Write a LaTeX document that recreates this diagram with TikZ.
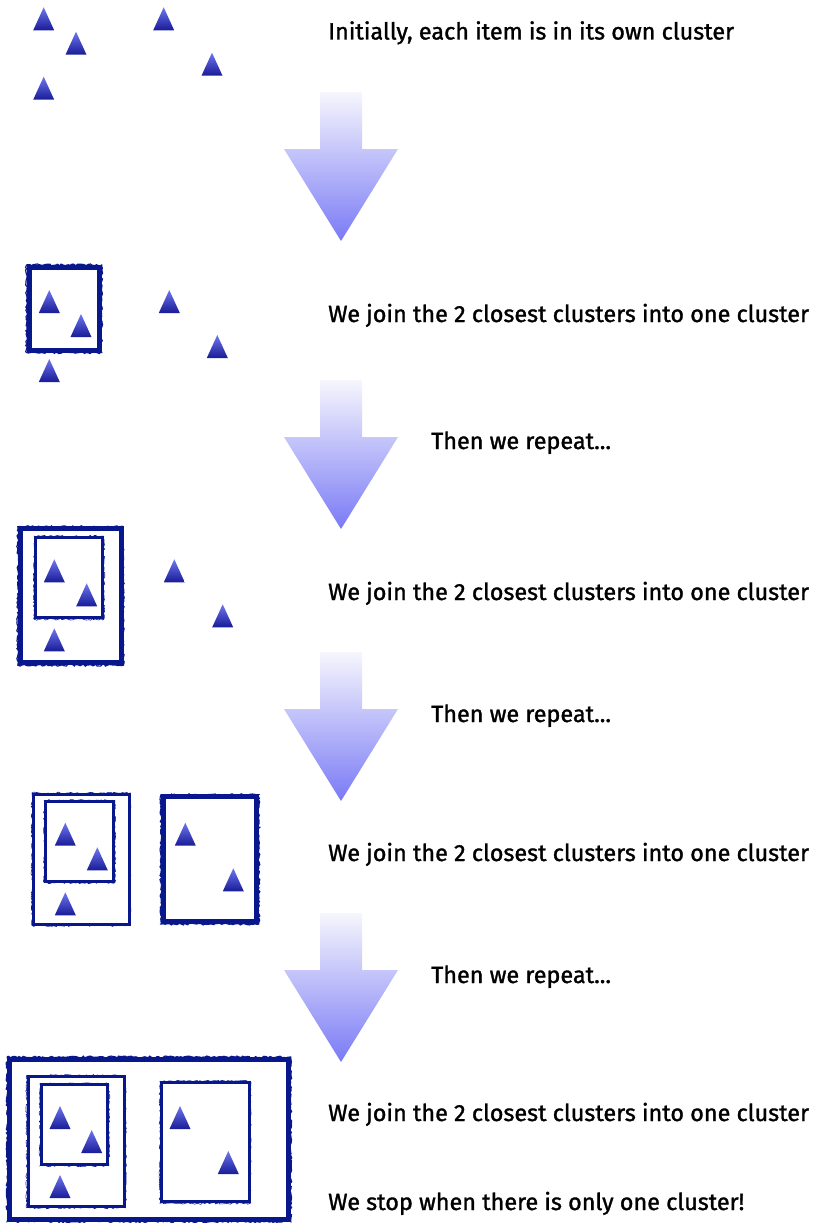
\documentclass[tikz,border=0pt]{standalone}
\usepackage{fontspec}
\setmainfont{Fira Sans}[FakeBold=1.3]
\usetikzlibrary{decorations.pathmorphing}
\definecolor{boxblue}{RGB}{8,24,140}
\definecolor{tritop}{RGB}{110,118,240}
\definecolor{tribot}{RGB}{24,28,150}
\definecolor{arrtop}{RGB}{246,246,253}
\definecolor{arrbot}{RGB}{122,122,246}
\tikzset{
  lbl/.style={anchor=base west, inner sep=0pt, font=\fontsize{23.4}{26}\selectfont, text=black},
  thickbox/.style={draw=boxblue, line width=5pt},
  thinbox/.style={draw=boxblue, line width=3pt},
  rough/.style={draw=boxblue, line width=1.2pt, decorate, decoration={random steps, segment length=2pt, amplitude=1pt}},
}
\newcommand\tri[2]{\shade[top color=tritop, bottom color=tribot] (#1,#2) -- (#1+10.5,#2+23) -- (#1-10.5,#2+23) -- cycle;}
\newcommand\arr[1]{\shade[top color=arrtop, bottom color=arrbot]
  (320,#1) -- (362,#1) -- (362,#1+57) -- (398,#1+57) -- (341,#1+149) -- (284,#1+57) -- (320,#1+57) -- cycle;}
\newcommand\tbox[4]{\path[thickbox] (#1,#2) rectangle (#3,#4);
  \path[rough] (#1-2.5,#2-2) rectangle (#3+2,#4+2.5);}
\newcommand\nbox[4]{\path[thinbox] (#1,#2) rectangle (#3,#4);
  \path[rough, line width=0.6pt] (#1-1.5,#2-1) rectangle (#3+1,#4+1.5);}
\begin{document}
\begin{tikzpicture}[x=1pt,y=-1pt]
\useasboundingbox (0,0) rectangle (816,1223);
% step 1
\tri{43.7}{7.3}\tri{76}{31.7}\tri{43.7}{76.7}\tri{163.7}{7.3}\tri{212}{52.7}
\node[lbl] (t1) at (328,39.5) {Initially, each item is in its own cluster};
\arr{92}
% step 2
\tbox{29}{267}{99.7}{350}
\tri{49.3}{290}\tri{81}{314}\tri{49.3}{359}\tri{169.3}{290}\tri{217.3}{335}
\node[lbl] (t2) at (328,322) {We join the 2 closest clusters into one cluster};
\arr{380}
\node[lbl] (r1) at (431,449) {Then we repeat...};
% step 3
\nbox{35.8}{537.2}{102.8}{617.8}
\tbox{20.3}{528.7}{121.3}{662.7}
\tri{54.3}{559.3}\tri{86.7}{583.3}\tri{54.3}{628.3}\tri{174.3}{559.3}\tri{222.7}{604.3}
\node[lbl] (t3) at (328,600) {We join the 2 closest clusters into one cluster};
\arr{652}
\node[lbl] (r2) at (431,722) {Then we repeat...};
% step 4
\nbox{45.8}{801.5}{113.8}{881.2}
\nbox{33.5}{794}{129}{924}
\tbox{163.5}{796.8}{256.8}{921.5}
\tri{65.3}{822.7}\tri{97.3}{847.3}\tri{65.3}{892.3}\tri{185.3}{822.7}\tri{233.3}{868.3}
\node[lbl] (t4) at (328,861) {We join the 2 closest clusters into one cluster};
\arr{913}
\node[lbl] (r3) at (431,983) {Then we repeat...};
% step 5
\nbox{41.5}{1084.8}{107.8}{1164.2}
\nbox{28.2}{1076.5}{124.5}{1206.2}
\nbox{161.5}{1082.2}{249.2}{1201.8}
\tbox{9.7}{1059}{288.7}{1219}
\tri{60}{1106}\tri{91.7}{1130}\tri{60}{1175}\tri{180}{1106}\tri{228.3}{1151}
\node[lbl] (t5) at (328,1121) {We join the 2 closest clusters into one cluster};
\node[lbl] (t6) at (328,1210) {We stop when there is only one cluster!};
\end{tikzpicture}
\end{document}
